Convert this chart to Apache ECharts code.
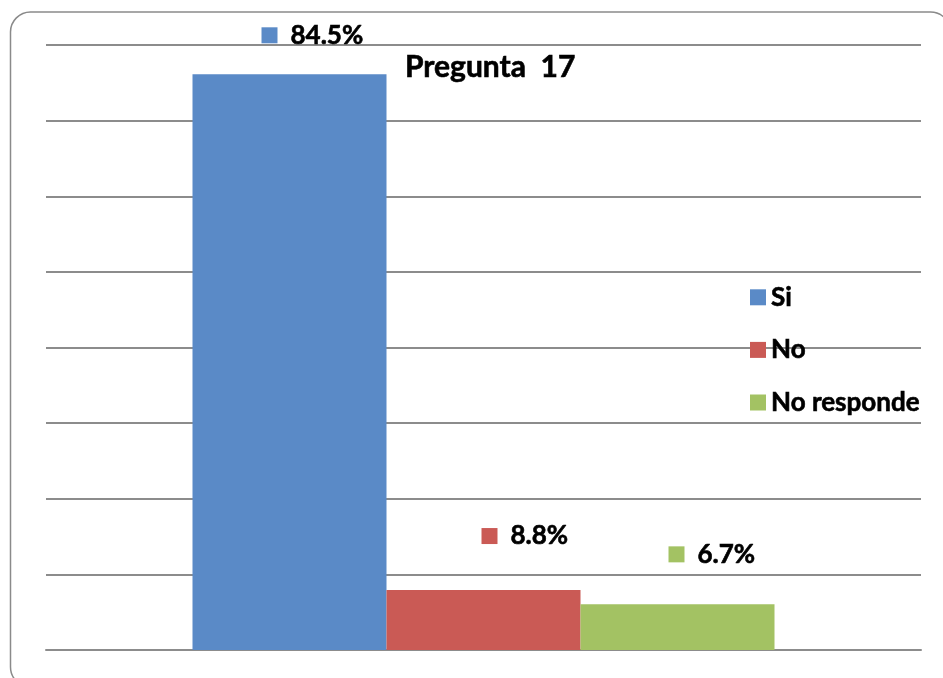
<!DOCTYPE html>
<html>
<head>
<meta charset="utf-8">
<script src="https://cdn.jsdelivr.net/npm/echarts@6/dist/echarts.min.js"></script>
<style>
  html, body { margin: 0; padding: 0; background: #fff; }
  #main { width: 943px; height: 678px; }
</style>
</head>
<body>
<div id="main"></div>
<script>
// datos de la pregunta 17
const categorias = ['Pregunta 17']
const respuestas = ['Si', 'No', 'No responde']
const valores = [84.5, 8.8, 6.7]
const colores = ['#5A8AC7', '#CA5A55', '#A3C263']
// desplazamiento de cada etiqueta respecto a la barra
const offsets = [[-28, -39], [-2, -54], [-9, -50]]

const fuente = 'Lato'
// trazo fino para engrosar la letra como en el original
const grueso = { textBorderColor: '#000', textBorderWidth: 0.6 }

const myChart = echarts.init(document.getElementById('main'))

const series = respuestas.map((nombre, i) => ({
	name: nombre,
	type: 'bar',
	barWidth: 194,
	barGap: '0%',
	itemStyle: { color: colores[i] },
	label: {
		show: true,
		position: 'top',
		distance: 0,
		align: 'left',
		verticalAlign: 'middle',
		offset: offsets[i],
		formatter: (p) => '{s|}{v|' + p.value.toFixed(1) + '%}',
		rich: {
			s: { width: 16, height: 16, backgroundColor: colores[i] },
			v: Object.assign({ fontFamily: fuente, fontWeight: 'bold', fontSize: 26, color: '#000', padding: [0, 0, 0, 13] }, grueso)
		}
	},
	data: [valores[i]]
}))

myChart.setOption({
	animation: false,
	title: {
		text: 'Pregunta  17',
		left: 400,
		top: 47,
		textStyle: Object.assign({ fontFamily: fuente, fontWeight: 'bold', fontSize: 30, color: '#000' }, grueso)
	},
	legend: {
		orient: 'vertical',
		left: 750,
		top: 284,
		padding: 0,
		itemWidth: 16,
		itemHeight: 16,
		itemGap: 26,
		icon: 'rect',
		textStyle: Object.assign({ fontFamily: fuente, fontWeight: 'bold', fontSize: 26, lineHeight: 25, color: '#000' }, grueso),
		data: respuestas
	},
	grid: { left: 46, right: 22, top: 45, bottom: 28 },
	xAxis: {
		type: 'category',
		data: categorias,
		axisLine: { show: true, lineStyle: { color: '#8c8c8c', width: 2 } },
		axisTick: { show: false },
		axisLabel: { show: false }
	},
	yAxis: {
		type: 'value',
		min: 0,
		max: 88.8,
		interval: 11.1,
		axisLabel: { show: false },
		axisLine: { show: false },
		axisTick: { show: false },
		splitLine: { lineStyle: { color: '#8c8c8c', width: 2 } }
	},
	graphic: [{
		type: 'rect',
		shape: { x: 10.5, y: 12, width: 940, height: 675, r: 20 },
		style: { fill: 'none', stroke: '#8a8a8a', lineWidth: 1.5 },
		silent: true,
		z: -1
	}],
	series: series
})
</script>
</body>
</html>
